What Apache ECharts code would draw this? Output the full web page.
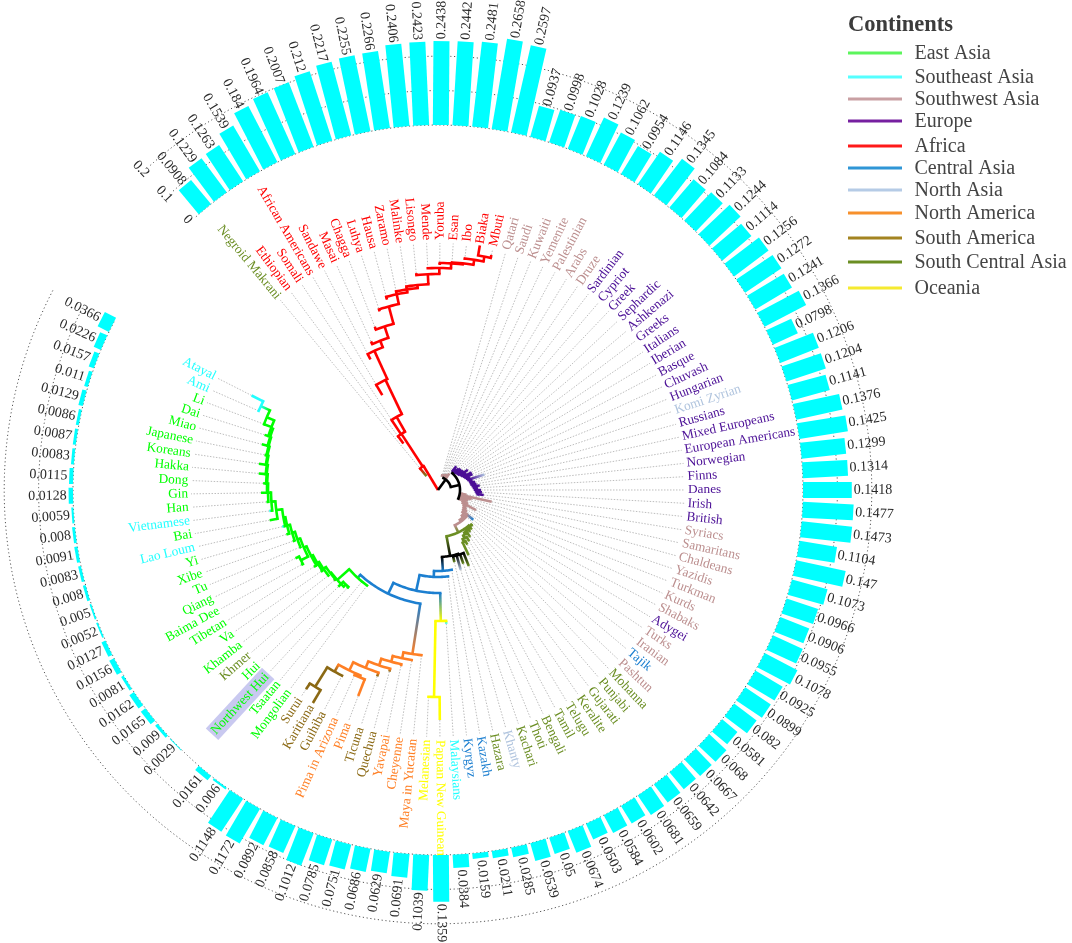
<!DOCTYPE html>
<html><head><meta charset="utf-8">
<style>html,body{margin:0;padding:0;background:#fff}#c{width:1072px;height:943px}</style>
<script src="https://cdn.jsdelivr.net/npm/echarts@6/dist/echarts.min.js"></script>
</head><body><div id="c"></div>
<script>
const populations = ["Negroid Makrani","Ethiopian","Somali","African Americans","Sandawe","Masai","Chagga","Luhya","Hausa","Zaramo","Malinke","Lisongo","Mende","Yoruba","Esan","Ibo","Biaka","Mbuti","Qatari","Saudi","Kuwaiti","Yemenite","Palestinian","Arabs","Druze","Sardinian","Cypriot","Greek","Sephardic","Ashkenazi","Greeks","Italians","Iberian","Basque","Chuvash","Hungarian","Komi Zyrian","Russians","Mixed Europeans","European Americans","Norwegian","Finns","Danes","Irish","British","Syriacs","Samaritans","Chaldeans","Yazidis","Turkman","Kurds","Shabaks","Adygei","Turks","Iranian","Tajik","Pashtun","Mohanna","Punjabi","Gujarati","Keralite","Telugu","Tamil","Bengali","Thoti","Kachari","Khanty","Hazara","Kazakh","Kyrgyz","Malaysians","Papuan New Guinean","Melanesian","Maya in Yucatan","Cheyenne","Yavapai","Quechua","Ticuna","Pima","Pima in Arizona","Guihiba","Karitiana","Surui","Mongolian","Tsaatan","Northwest Hui","Hui","Khmer","Khamba","Va","Tibetan","Baima Dee","Qiang","Tu","Xibe","Yi","Lao Loum","Bai","Vietnamese","Han","Gin","Dong","Hakka","Koreans","Japanese","Miao","Dai","Li","Ami","Atayal"];
const barValues = [0.0908,0.1229,0.1263,0.1539,0.184,0.1964,0.2007,0.212,0.2217,0.2255,0.2266,0.2406,0.2423,0.2438,0.2442,0.2481,0.2658,0.2597,
0.0937,0.0998,0.1028,0.1239,0.1062,0.0954,0.1146,0.1345,0.1084,0.1133,0.1244,0.1114,0.1256,0.1272,0.1241,0.1366,0.0798,0.1206,0.1204,0.1141,0.1376,0.1425,0.1299,0.1314,0.1418,0.1477,0.1473,0.1104,0.147,0.1073,0.0966,0.0906,0.0955,0.1078,0.0925,0.0899,0.082,0.0581,0.068,0.0667,0.0642,0.0659,0.0681,0.0602,0.0584,0.0503,0.0674,0.05,0.0539,0.0285,0.0211,0.0159,0.0384,0.1359,
0.1039,0.0691,0.0629,0.0686,0.0751,0.0785,0.1012,0.0858,0.0892,0.1172,0.1148,0.006,0.0161,null,0.0029,0.009,0.0165,0.0162,0.0081,0.0156,0.0127,0.0052,0.005,0.008,0.0083,0.0091,0.008,0.0059,0.0128,0.0115,0.0083,0.0087,0.0086,0.0129,0.011,0.0157,0.0226,0.0366];
const populationGroups = ["sc","af","af","af","af","af","af","af","af","af","af","af","af","af","af","af","af","af","sw","sw","sw","sw","sw","sw","sw","eu","eu","eu","eu","eu","eu","eu","eu","eu","eu","eu","nas","eu","eu","eu","eu","eu","eu","eu","eu","sw","sw","sw","sw","sw","sw","sw","eu","sw","sw","ca","sw","sc","sc","sc","sc","sc","sc","sc","sc","sc","nas","sc","ca","ca","se","oc","oc","na","na","na","sa","sa","na","na","sa","sa","sa","ea","ea","ea","ea","sc","ea","ea","ea","ea","ea","ea","ea","ea","se","ea","se","ea","ea","ea","ea","ea","ea","ea","ea","ea","se","se"];
const highlighted = ["Northwest Hui"];
const ringValues = [0,0.1,0.2];
const ringLabels = ["0","0.1","0.2"];
const legendTitle = "Continents";
const legendNames = ["East Asia","Southeast Asia","Southwest Asia","Europe","Africa","Central Asia","North Asia","North America","South America","South Central Asia","Oceania"];
const legendKeys = ["ea","se","sw","eu","af","ca","nas","na","sa","sc","oc"];
const legendColors = {ea:"#5cf55c",se:"#55ffff",sw:"#c9a0a3",eu:"#7620a0",af:"#ff1a1a",ca:"#2f96d6",nas:"#b5cbe6",na:"#f7902c",sa:"#a38420",sc:"#6b8e23",oc:"#f5ea30"};
const groupColors = {ea:"#00ff00",se:"#22ffff",sw:"#bc8f8f",eu:"#4b0f96",af:"#ff0000",ca:"#1c7fd0",nas:"#b0c4de",na:"#ff7f24",sa:"#8b6914",sc:"#6b8e23",oc:"#ffff00",k:"#000000"};

// tree: branch depths; a plain number is a leaf's depth
function N(r,c,kids,at){return {r,c,k:kids,at};}
function ladder(c,rows,last){let n=last;for(let i=rows.length-1;i>=0;i--){n=N(rows[i][0],c,[rows[i][1],n],rows[i][2]);}return n;}
const africaRows=[[67,58],[84,67],[122,110,4.6],[153,147,4.9],[160,163],[172,175],[190,188],[200,197],[203,200],[206,203],[216,218],[222,222],[227,225],[228,228],[233,232]];
const europeRows=[[24,30],[25,28],[25.5,30],[26,31],[27,31],[28,32],[29,36],[30,33],[31,38],[32,38],[33,34],[33.5,49],[34,36],[35,38],[36,39],[37,42],[38,40],[39,43]];
const southwestRows=[[24,29,49.4],[25,55],[26,35],[27,32],[28,31],[30,33],[31,43],[32,30],[33,31],[35,34],[37,46],[39,38]];
const southCentralRows=[[48,50],[49,52],[50,53],[52,57],[55,60]];
const americaRows=[[166,166],[172,173],[178,180],[185,188],[192,196]];
const eastAsiaRows=[[136,138],[139,140],[141,143],[143,146]];
const eastAsiaOuterRows=[[149,150],[152,154],[155,158],[157,160],[163,171],[167,170],[170,172],[171,177],[172,175],[173,180],[174,181],[175,177],[176,182],[178,182],[186,177]];
const africa=N(28,"af",[18,ladder("af",africaRows,N(238,"af",[248,241]))],2.8);
const europe=ladder("eu",europeRows,N(40,"eu",[44,46]));
const southCentral=ladder("sc",southCentralRows,N(58,"sc",[62,72]));
const oceania=N(131,"oc",[134,N(207,"oc",[230,207])]);
const america=ladder("na",americaRows,N(201,"na",[N(203,"na",[221,204]),N(209,"sa",[209,N(232,"sa",[247,239])])]));
const eastAsia=N(119,"ea",[119,120,N(135,"ea",[N(132,"ea",[134,139]),
  ladder("ea",eastAsiaRows,N(146,"ea",[N(154,"ea",[156,158]),ladder("ea",eastAsiaOuterRows,N(196,"se",[196,209]))]))])]);
const centralAsia=N(81,"ca",[81,N(87,"ca",[87,N(103,"ca",[oceania,N(115,"ca",[america,eastAsia])])])]);
const lower=N(67,"k",[N(68,"k",[82,78,83,74]),centralAsia]);
const tree=N(0,"k",[africa,N(13,"k",[N(15,"sw",[16,16,17,17,18,18,20]),N(22,"k",[europe,ladder("sw",southwestRows,N(47,"sc",[southCentral,lower]))])],24.5)]);

const CX=438,CY=490,R0=365,K=344,STEP=3.088,FIRST=-39.7,LABEL_R=250,SPOKE_R=247,BAR_W=16;
const toAxis=px=>(px-R0)/K;
const segs=[],tips=[];let leaf=0;
function walk(n,parentR,parentC){
  if(typeof n==="number"){const i=leaf++;const c=populationGroups[i];
    segs.push({t:"rad",a:i,r0:parentR,r1:n,c0:parentC,c1:c});tips[i]=n;return i;}
  const ks=n.k.map(k=>walk(k,n.r,n.c));
  const a=n.at!==undefined?n.at:(ks[0]+ks[ks.length-1])/2;
  const lo=Math.min(a,...ks),hi=Math.max(a,...ks);
  if(n.r>0){segs.push({t:"arc",r:n.r,a0:lo,a1:hi,c:n.c});
    segs.push({t:"rad",a,r0:parentR,r1:n.r,c0:parentR===0?n.c:parentC,c1:n.c});}
  return a;
}
walk(tree,0,"k");

const chart=echarts.init(document.getElementById("c"),null,{renderer:"canvas"});
const rows=arr=>arr.map((_,i)=>[0,i]);
const valueFont='14px "Liberation Serif"';
const nameFont='13.3px "Liberation Serif"';
function spokeText(api,r,idx,text,fill,font,extra,centered){
  const p=api.coord([r,idx]);
  let th=FIRST+STEP*idx;th=(th+360)%360;
  const right=th<180;
  const rot=(right?90-th:270-th)*Math.PI/180;
  const al=centered?"center":(right?"left":"right");
  return {type:"text",x:p[0],y:p[1],rotation:rot,silent:true,
    style:Object.assign({text,fill,font,align:al,verticalAlign:"middle",textAlign:al,textVerticalAlign:"middle"},extra||{})};
}
const base={type:"custom",coordinateSystem:"polar",silent:true,animation:false,clip:false};
const option={
  animation:false,
  polar:{center:[CX,CY],radius:[0,R0+K*0.3]},
  radiusAxis:{type:"value",min:toAxis(0),max:0.3,show:false},
  angleAxis:{type:"value",min:-3,max:360/STEP-3,startAngle:90-FIRST+3*STEP,clockwise:true,show:false,splitLine:{show:false},axisLine:{show:false},axisTick:{show:false},axisLabel:{show:false}},
  series:[
    Object.assign({},base,{name:"rings",z:1,data:rows(ringValues),renderItem(p,api){
      const v=ringValues[p.dataIndex],pts=[];
      for(let a=-0.6;a<=populations.length-0.6;a+=0.2)pts.push(api.coord([v,a]));
      return {type:"polyline",shape:{points:pts},style:{stroke:"#555",lineWidth:1,lineDash:[1.2,2.6],fill:null}};
    }}),
    Object.assign({},base,{name:"spokes",z:2,data:rows(populations),renderItem(p,api){
      const i=p.dataIndex;
      return {type:"line",shape:{x1:api.coord([toAxis(tips[i]),i])[0],y1:api.coord([toAxis(tips[i]),i])[1],x2:api.coord([toAxis(SPOKE_R),i])[0],y2:api.coord([toAxis(SPOKE_R),i])[1]},
        style:{stroke:"#bdbdbd",lineWidth:1,lineDash:[1.5,1.5]}};
    }}),
    Object.assign({},base,{name:"tree",z:3,data:rows(segs),renderItem(p,api){
      const s=segs[p.dataIndex];
      if(s.t==="arc"){const pts=[];const n=Math.max(2,Math.ceil((s.a1-s.a0)*3));
        for(let j=0;j<=n;j++)pts.push(api.coord([toAxis(s.r),s.a0+(s.a1-s.a0)*j/n]));
        return {type:"polyline",shape:{points:pts},style:{stroke:groupColors[s.c],lineWidth:2.6,fill:null,lineCap:"square"}};}
      const a=api.coord([toAxis(s.r0),s.a]),b=api.coord([toAxis(s.r1),s.a]);
      const stroke=s.c0===s.c1?groupColors[s.c1]:new echarts.graphic.LinearGradient(a[0],a[1],b[0],b[1],[{offset:0,color:groupColors[s.c0]},{offset:1,color:groupColors[s.c1]}],true);
      return {type:"polyline",shape:{points:[a,b]},style:{stroke,lineWidth:2.6,fill:null}};
    }}),
    Object.assign({},base,{name:"bars",z:4,data:rows(barValues),renderItem(p,api){
      const i=p.dataIndex,v=barValues[i];if(v===null)return null;
      const a=api.coord([0,i]),b=api.coord([v,i]);
      const L=Math.hypot(a[0]-CX,a[1]-CY),ux=(a[0]-CX)/L,uy=(a[1]-CY)/L,nx=-uy*BAR_W/2,ny=ux*BAR_W/2;
      return {type:"polygon",shape:{points:[[a[0]+nx,a[1]+ny],[a[0]-nx,a[1]-ny],[b[0]-nx,b[1]-ny],[b[0]+nx,b[1]+ny]]},style:{fill:"#00ffff",stroke:null}};
    }}),
    Object.assign({},base,{name:"value labels",z:5,data:rows(barValues),renderItem(p,api){
      const i=p.dataIndex,v=barValues[i];if(v===null)return null;
      return spokeText(api,v+2/K,i,String(v),"#2a2a2a",valueFont);
    }}),
    Object.assign({},base,{name:"ring labels",z:5,data:rows(ringValues),renderItem(p,api){
      return spokeText(api,ringValues[p.dataIndex]+3.5/K,-1,ringLabels[p.dataIndex],"#2a2a2a",valueFont,null,true);
    }}),
    Object.assign({},base,{name:"population labels",z:6,data:rows(populations),renderItem(p,api){
      const i=p.dataIndex,name=populations[i];
      const extra=highlighted.includes(name)?{backgroundColor:"#c9c9f0",padding:[2,2,2,2]}:null;
      return spokeText(api,toAxis(LABEL_R),i,name,groupColors[populationGroups[i]],nameFont,extra);
    }})
  ],
  graphic:[
    {type:"text",x:848,y:25,z:10,style:{text:legendTitle,fill:"#3c3c3c",font:'bold 22.5px "Liberation Serif"',verticalAlign:"middle",textVerticalAlign:"middle"}}
  ]
};
const legendY=[53,77,99,121,146,168,190,213,238,262,288];
legendNames.forEach((n,i)=>{
  option.graphic.push({type:"line",z:10,shape:{x1:848,y1:legendY[i],x2:902,y2:legendY[i]},style:{stroke:legendColors[legendKeys[i]],lineWidth:3}});
  option.graphic.push({type:"text",x:914.5,y:legendY[i]+1,z:10,style:{text:n,fill:"#444",font:'20px "Liberation Serif"',verticalAlign:"middle",textVerticalAlign:"middle"}});
});
chart.setOption(option);
</script></body></html>
